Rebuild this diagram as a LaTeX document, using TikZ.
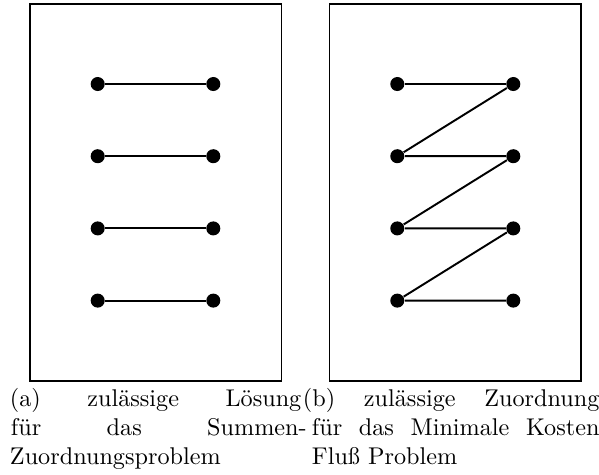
\documentclass[tikz,border=0pt]{standalone}
\usepackage{fontspec}
\begin{document}
\begin{tikzpicture}[x=0.41322pt,y=-0.41322pt,
  vertex/.style={circle,fill=black,inner sep=0pt,minimum size=5.8pt},
  edge/.style={line width=0.8pt},
  frame/.style={line width=0.45pt},
  capline/.style={inner sep=0pt,anchor=base west,font=\fontsize{10}{12}\selectfont}]
\useasboundingbox (0,0) rectangle (599,474);

% panel frames
\draw[frame] (30,4) rectangle (281.7,381);
\draw[frame] (329.5,4) rectangle (581,381);

% vertices of both panels
\foreach \i/\yy in {1/84,2/156.2,3/228.4,4/300.6}{
  \node[vertex] (a\i) at (97.7,\yy) {};
  \node[vertex] (b\i) at (213.3,\yy) {};
  \node[vertex] (c\i) at (397.3,\yy) {};
  \node[vertex] (d\i) at (513.3,\yy) {};
}

% left panel: assignment
\foreach \i in {1,...,4}{
  \draw[edge] (a\i) -- (b\i);
}

% right panel: zig-zag flow
\draw[edge] (c1) -- (d1) -- (c2) -- (d2) -- (c3) -- (d3) -- (c4) -- (d4);

% captions
\node[capline] (capa1) at (9.5,406.5) {\makebox[120.4pt][s]{(a) zulässige Lösung}};
\node[capline] (capa2) at (10.5,435.5) {\makebox[122.2pt][s]{für das Summen-}};
\node[capline] (capa3) at (9.5,464.5) {Zuordnungsproblem};
\node[capline] (capb1) at (302.5,406.5) {\makebox[122.5pt][s]{(b) zulässige Zuordnung}};
\node[capline] (capb2) at (311.5,435.5) {\makebox[118.8pt][s]{für das Minimale Kosten}};
\node[capline] (capb3) at (311.5,464.5) {Fluß Problem};
\end{tikzpicture}
\end{document}
